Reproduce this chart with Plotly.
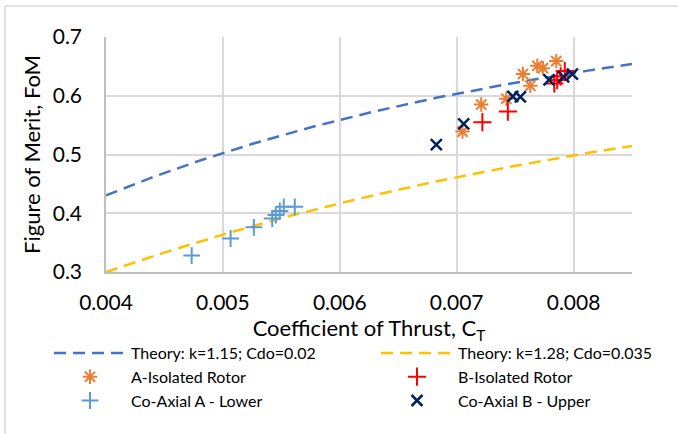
import numpy as np
import plotly.graph_objects as go

# Momentum-theory figure of merit curves
SOLIDITY = 0.084
theory_a = {"k": 1.15, "cd0": 0.02}
theory_b = {"k": 1.28, "cd0": 0.035}
ct_theory = np.linspace(0.004, 0.0085, 120)


def figure_of_merit(ct, k, cd0, sigma=SOLIDITY):
    ideal = ct ** 1.5 / np.sqrt(2.0)
    return ideal / (k * ideal + sigma * cd0 / 8.0)


# Measured data
ct_a_isolated = [0.00705, 0.00721, 0.007425, 0.007567, 0.00763, 0.00769, 0.007738, 0.007852]
fom_a_isolated = [0.539, 0.585, 0.595, 0.637, 0.617, 0.651, 0.647, 0.659]

ct_b_isolated = [0.00722, 0.007438, 0.007835, 0.00786, 0.00789, 0.007925]
fom_b_isolated = [0.555, 0.573, 0.621, 0.627, 0.633, 0.642]

ct_coax_a_lower = [0.004733, 0.005066, 0.005265, 0.005422, 0.005453, 0.005487, 0.005521, 0.005615]
fom_coax_a_lower = [0.328, 0.357, 0.376, 0.391, 0.397, 0.404, 0.411, 0.411]

ct_coax_b_upper = [0.006826, 0.00706, 0.00748, 0.007545, 0.00779, 0.007915, 0.00799]
fom_coax_b_upper = [0.517, 0.552, 0.599, 0.598, 0.627, 0.632, 0.637]

x_ticks = [0.004, 0.005, 0.006, 0.007, 0.008]
y_ticks = [0.3, 0.4, 0.5, 0.6, 0.7]

FONT = "Lato, 'Open Sans', sans-serif"

fig = go.Figure()

fig.add_trace(go.Scatter(
    x=ct_theory, y=figure_of_merit(ct_theory, **theory_a), mode="lines",
    name="Theory: k=1.15; Cdo=0.02", legend="legend",
    line=dict(color="#4472C4", width=2.5, dash="12px,7px"),
))
fig.add_trace(go.Scatter(
    x=ct_theory, y=figure_of_merit(ct_theory, **theory_b), mode="lines",
    name="Theory: k=1.28; Cdo=0.035", legend="legend2",
    line=dict(color="#FFC000", width=2.5, dash="12px,7px"),
))
fig.add_trace(go.Scatter(
    x=ct_a_isolated, y=fom_a_isolated, mode="markers", name="A-Isolated Rotor",
    legend="legend",
    marker=dict(symbol="asterisk-open", size=12, color="#ED7D31",
                line=dict(color="#ED7D31", width=2)),
))
fig.add_trace(go.Scatter(
    x=ct_b_isolated, y=fom_b_isolated, mode="markers", name="B-Isolated Rotor",
    legend="legend2",
    marker=dict(symbol="cross-thin-open", size=13, color="#FF0000",
                line=dict(color="#FF0000", width=2)),
))
fig.add_trace(go.Scatter(
    x=ct_coax_a_lower, y=fom_coax_a_lower, mode="markers", name="Co-Axial A - Lower",
    legend="legend",
    marker=dict(symbol="cross-thin-open", size=12, color="#5B9BD5",
                line=dict(color="#5B9BD5", width=2)),
))
fig.add_trace(go.Scatter(
    x=ct_coax_b_upper, y=fom_coax_b_upper, mode="markers", name="Co-Axial B - Upper",
    legend="legend2",
    marker=dict(symbol="x-thin-open", size=11, color="#002060",
                line=dict(color="#002060", width=2.5)),
))

L, R, T, B = 106, 46, 37, 162
W, H = 678, 434
pw, ph = W - L - R, H - T - B


def px_to_paper(px, py):
    return (px - L) / pw, (H - B - py) / ph


# thin chart-area frame (left and top edges)
fx0, fy0 = px_to_paper(5, 434)
fx1, fy1 = px_to_paper(678, 6)
fig.add_shape(type="line", xref="paper", yref="paper", x0=fx0, y0=fy0, x1=fx0, y1=fy1,
              line=dict(color="#D9D9D9", width=1.5), layer="below")
fig.add_shape(type="line", xref="paper", yref="paper", x0=fx0, y0=fy1, x1=fx1, y1=fy1,
              line=dict(color="#D9D9D9", width=1.5), layer="below")

legend_common = dict(
    orientation="v", xanchor="left", yanchor="top",
    font=dict(size=16, family=FONT), tracegroupgap=0, itemwidth=72,
    bgcolor="rgba(0,0,0,0)",
)
lx1, ly = px_to_paper(49, 336)
lx2, _ = px_to_paper(376, 336)

fig.update_layout(
    width=W, height=H,
    margin=dict(l=L, r=R, t=T, b=B, autoexpand=False),
    paper_bgcolor="white", plot_bgcolor="white",
    font=dict(family=FONT, color="#000000"),
    showlegend=True,
    legend=dict(x=lx1, y=ly, **legend_common),
    legend2=dict(x=lx2, y=ly, **legend_common),
    xaxis=dict(
        range=[0.004, 0.0085], tickvals=x_ticks, ticktext=[f"{v:.3f}" for v in x_ticks],
        showgrid=True, gridcolor="#D9D9D9", gridwidth=1.5,
        showline=True, linecolor="#BFBFBF", linewidth=1.5,
        zeroline=False, ticks="", tickfont=dict(size=21), ticklabelstandoff=11,
        title=dict(text="Coefficient of Thrust, C<sub>T</sub>", font=dict(size=22), standoff=2),
    ),
    yaxis=dict(
        range=[0.3, 0.7], tickvals=y_ticks, ticktext=[f"{v:.1f}" for v in y_ticks],
        showgrid=True, gridcolor="#D9D9D9", gridwidth=1.5,
        showline=True, linecolor="#BFBFBF", linewidth=1.5,
        zeroline=False, ticks="", tickfont=dict(size=21), ticklabelstandoff=18,
        title=dict(text="Figure of Merit, FoM", font=dict(size=22), standoff=6),
    ),
)

fig.write_html("out.html")
